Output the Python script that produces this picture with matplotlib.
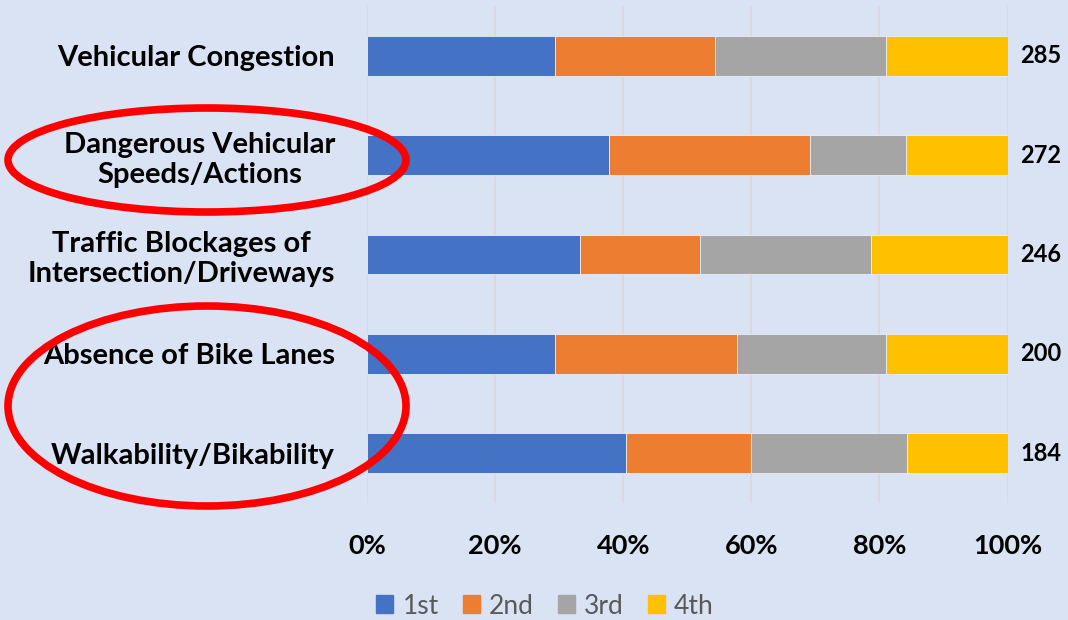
import numpy as np
import matplotlib.pyplot as plt
from matplotlib.patches import Ellipse, Patch

# Issues ranked by share of 1st/2nd/3rd/4th choice (percent of responses)
categories = ['Vehicular Congestion',
              'Dangerous Vehicular\nSpeeds/Actions',
              'Traffic Blockages of\nIntersection/Driveways',
              'Absence of Bike Lanes',
              'Walkability/Bikability']
first = [29.3, 37.8, 33.3, 29.3, 40.4]
second = [25.1, 31.4, 18.7, 28.5, 19.5]
third = [26.6, 14.9, 26.7, 23.3, 24.4]
fourth = [19.0, 15.9, 21.3, 18.9, 15.7]
totals = [285, 272, 246, 200, 184]
rank_labels = ['1st', '2nd', '3rd', '4th']
xticks = [0, 20, 40, 60, 80, 100]

colors = ['#4472C4', '#ED7D31', '#A5A5A5', '#FFC000']
bg = '#DAE3F3'

plt.rcParams['font.family'] = ['Lato', 'DejaVu Sans']

fig = plt.figure(figsize=(10.68, 6.2), dpi=100, facecolor=bg)
ax = fig.add_axes([367 / 1068, 1 - 503 / 620, 640.5 / 1068, 497 / 620])
ax.set_facecolor(bg)

y = np.arange(len(categories))
left = np.zeros(len(categories))
for vals, col, lab in zip([first, second, third, fourth], colors, rank_labels):
    ax.barh(y, vals, left=left, height=0.4, color=col, label=lab,
            edgecolor='#E8EEF8', linewidth=0.6, zorder=3)
    left += np.array(vals)

for yi, t in zip(y, totals):
    ax.text(105.2, yi, str(t), ha='center', va='center', fontsize=17,
            fontweight='bold', color='black', clip_on=False)

ax.set_xlim(0, 100)
ax.set_ylim(len(categories) - 0.5, -0.5)
ax.set_xticks(xticks)
ax.set_xticklabels([f'{v}%' for v in xticks], fontsize=19.5, fontweight='bold')
ax.set_yticks(y)
ax.set_yticklabels(categories, fontsize=21, fontweight='bold')
for lbl in ax.get_yticklabels():
    lbl.set_multialignment('center')
ax.tick_params(axis='both', length=0)
ax.tick_params(axis='y', pad=23)
ax.tick_params(axis='x', pad=22)
ax.grid(axis='x', color='#D9D9D9', linewidth=1.2, zorder=0)
for s in ax.spines.values():
    s.set_visible(False)

handles = [Patch(color=c, label=l) for c, l in zip(colors, rank_labels)]
fig.legend(handles=handles, loc='center', bbox_to_anchor=(545 / 1068, 1 - 606 / 620),
           ncol=4, frameon=False, fontsize=19, handlelength=0.65, handleheight=0.65,
           handletextpad=0.35, columnspacing=0.9, labelcolor='#595959',
           borderaxespad=0, borderpad=0)

# red highlight ellipses (figure pixel positions)
W, H = 1068, 620
for cx, cy, w, h in [(207, 160, 398, 104), (207, 406, 398, 200)]:
    fig.add_artist(Ellipse((cx / W, 1 - cy / H), w / W, h / H, transform=fig.transFigure,
                           fill=False, edgecolor='#FF0000', linewidth=5.5, zorder=10))

fig.savefig('out.png', dpi=100, facecolor=bg)
